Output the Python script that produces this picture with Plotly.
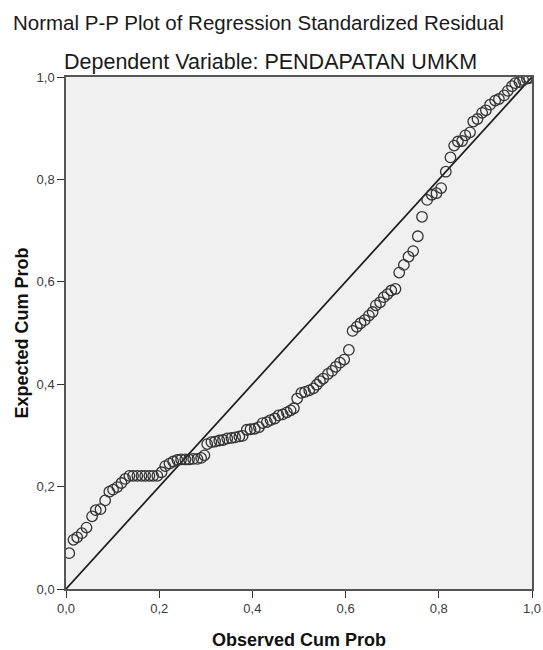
import plotly.graph_objects as go

observed = [0.007, 0.016, 0.024, 0.034, 0.044, 0.056, 0.064, 0.074, 0.084, 0.093,
            0.101, 0.110, 0.119, 0.127, 0.136, 0.144, 0.153, 0.162, 0.170, 0.179,
            0.187, 0.196, 0.205, 0.213, 0.222, 0.230, 0.239, 0.247, 0.256, 0.264,
            0.273, 0.282, 0.290, 0.297, 0.303, 0.312, 0.320, 0.329, 0.337, 0.346,
            0.355, 0.363, 0.372, 0.379, 0.388, 0.396, 0.405, 0.414, 0.422, 0.431,
            0.439, 0.448, 0.456, 0.465, 0.474, 0.482, 0.489, 0.496, 0.505, 0.513,
            0.522, 0.531, 0.538, 0.545, 0.552, 0.562, 0.571, 0.579, 0.588, 0.597,
            0.607, 0.615, 0.624, 0.632, 0.641, 0.650, 0.658, 0.665, 0.674, 0.682,
            0.690, 0.698, 0.707, 0.715, 0.725, 0.735, 0.745, 0.755, 0.764, 0.775,
            0.785, 0.795, 0.805, 0.815, 0.825, 0.833, 0.841, 0.850, 0.857, 0.867,
            0.874, 0.883, 0.893, 0.901, 0.910, 0.921, 0.929, 0.940, 0.948, 0.957,
            0.964, 0.973, 0.981, 0.989, 0.994]
expected = [0.070, 0.096, 0.101, 0.109, 0.120, 0.142, 0.154, 0.156, 0.173, 0.190,
            0.194, 0.199, 0.207, 0.215, 0.221, 0.221, 0.221, 0.221, 0.221, 0.221,
            0.221, 0.221, 0.228, 0.240, 0.245, 0.249, 0.252, 0.253, 0.253, 0.253,
            0.254, 0.254, 0.256, 0.261, 0.283, 0.287, 0.288, 0.290, 0.291, 0.294,
            0.295, 0.296, 0.298, 0.299, 0.311, 0.312, 0.313, 0.316, 0.324, 0.326,
            0.330, 0.333, 0.339, 0.341, 0.345, 0.349, 0.353, 0.372, 0.383, 0.385,
            0.388, 0.392, 0.399, 0.406, 0.411, 0.420, 0.426, 0.434, 0.442, 0.448,
            0.467, 0.504, 0.512, 0.519, 0.525, 0.534, 0.541, 0.554, 0.560, 0.570,
            0.576, 0.583, 0.586, 0.618, 0.633, 0.649, 0.660, 0.689, 0.727, 0.760,
            0.770, 0.773, 0.783, 0.815, 0.843, 0.866, 0.874, 0.875, 0.886, 0.892,
            0.913, 0.918, 0.930, 0.935, 0.946, 0.954, 0.957, 0.964, 0.973, 0.982,
            0.988, 0.990, 0.994, 0.997, 0.998]
ref_line = [0.0, 1.0]
tick_vals = [0.0, 0.2, 0.4, 0.6, 0.8, 1.0]
tick_text = ["0,0", "0,2", "0,4", "0,6", "0,8", "1,0"]

fig = go.Figure()
fig.add_trace(go.Scatter(x=ref_line, y=ref_line, mode="lines",
                         line=dict(color="#1a1a1a", width=1.7),
                         hoverinfo="skip", showlegend=False))
fig.add_trace(go.Scatter(x=observed, y=expected, mode="markers",
                         marker=dict(symbol="circle-open", size=10.5,
                                     color="#333333", line=dict(width=1.3, color="#333333")),
                         showlegend=False))

font_family = "Liberation Sans, Arial, sans-serif"
W, H = 543, 650
fig.update_layout(
    width=W, height=H,
    margin=dict(l=66, r=11, t=77, b=61, autoexpand=False),
    paper_bgcolor="white", plot_bgcolor="#f0f0f0",
    font=dict(family=font_family, color="#222222"),
    title=dict(text="Normal P-P Plot of Regression Standardized Residual",
               x=13/W, xanchor="left", xref="container",
               y=1-23/H, yanchor="middle", yref="container",
               font=dict(size=20.5, color="#1a1a1a")),
    annotations=[dict(text="Dependent Variable: PENDAPATAN UMKM",
                      xref="paper", yref="paper", x=0.438, y=1.029,
                      xanchor="center", yanchor="middle", showarrow=False,
                      font=dict(size=21.5, color="#1a1a1a"))],
)
axis_common = dict(range=[0, 1], tickvals=tick_vals, ticktext=tick_text,
                   ticks="outside", ticklen=7, tickwidth=1.3, tickcolor="#333333",
                   showline=True, linecolor="#555555", linewidth=1.5, mirror=True,
                   showgrid=False, zeroline=False, automargin=False,
                   ticklabeloverflow="allow",
                   tickfont=dict(size=13, color="#3a3a3a"))
fig.update_xaxes(**axis_common,
                 title=dict(text="<b>Observed Cum Prob</b>", standoff=20,
                            font=dict(size=18, color="#111111")))
fig.update_yaxes(**axis_common,
                 title=dict(text="<b>Expected Cum Prob</b>", standoff=3,
                            font=dict(size=18, color="#111111")))

fig.write_html("out.html", config={"displayModeBar": False},
               post_script="document.body.style.margin='0px';")
